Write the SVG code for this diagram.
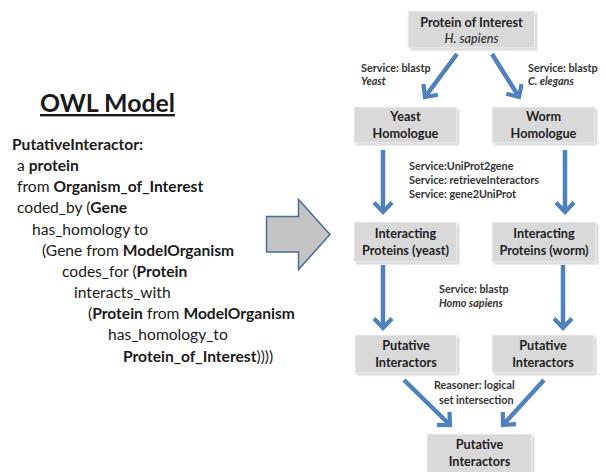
<svg xmlns="http://www.w3.org/2000/svg" width="606" height="472" viewBox="0 0 606 472">
  <style>
    .box { fill: #d9d9d9; stroke: #f4f4f4; stroke-width: 1; }
    .shadow { fill: #a8a8a8; opacity: 0.6; }
    .nt { font-family: Lato, "Liberation Sans", sans-serif; font-weight: bold; font-size: 12.7px; fill: #1e1e1e; text-anchor: middle; }
    .nti { font-family: Lato, "Liberation Sans", sans-serif; font-style: italic; font-size: 12.7px; fill: #1e1e1e; text-anchor: middle; }
    .lbl { font-family: Lato, "Liberation Sans", sans-serif; font-weight: bold; font-size: 10.8px; fill: #333333; }
    .lbli { font-family: Lato, "Liberation Sans", sans-serif; font-style: italic; font-weight: bold; font-size: 10.8px; fill: #333333; }
    .owl { font-family: Lato, "Liberation Sans", sans-serif; font-size: 15.6px; fill: #1a1a1a; }
    .owl .b { font-weight: bold; }
    .title { font-family: Lato, "Liberation Sans", sans-serif; font-weight: bold; font-size: 24px; fill: #1a1a1a; text-decoration: underline; }
    .conn { stroke: #4f81bd; stroke-width: 4.5; fill: none; marker-end: url(#chev); }
  </style>
  <defs>
    <marker id="chev" markerUnits="userSpaceOnUse" orient="auto" refX="0" refY="0" markerWidth="30" markerHeight="30" overflow="visible">
      <path d="M -9.5 -9 L 0 0 L -9.5 9" fill="none" stroke="#4f81bd" stroke-width="4.2" stroke-linejoin="miter"/>
    </marker>
    <filter id="soft" x="-10%" y="-10%" width="130%" height="130%">
      <feGaussianBlur stdDeviation="1"/>
    </filter>
  </defs>

  <rect width="606" height="472" fill="#ffffff"/>

  <!-- OWL model description -->
  <g id="owl-model">
    <text class="title" x="40" y="112" textLength="135" lengthAdjust="spacingAndGlyphs">OWL Model</text>
    <text class="owl" x="12" y="150"><tspan class="b">PutativeInteractor:</tspan></text>
    <text class="owl" x="17" y="171">a <tspan class="b">protein</tspan></text>
    <text class="owl" x="17" y="192">from <tspan class="b">Organism_of_Interest</tspan></text>
    <text class="owl" x="17" y="213">coded_by (<tspan class="b">Gene</tspan></text>
    <text class="owl" x="32" y="235">has_homology to</text>
    <text class="owl" x="42" y="256">(Gene from <tspan class="b">ModelOrganism</tspan></text>
    <text class="owl" x="62" y="277">codes_for (<tspan class="b">Protein</tspan></text>
    <text class="owl" x="74" y="298">interacts_with</text>
    <text class="owl" x="88" y="319">(<tspan class="b">Protein</tspan> from <tspan class="b">ModelOrganism</tspan></text>
    <text class="owl" x="108" y="340">has_homology_to</text>
    <text class="owl" x="123" y="362"><tspan class="b">Protein_of_Interest</tspan>))))</text>
  </g>

  <!-- Big block arrow -->
  <g id="block-arrow">
    <polygon points="266.5,216.5 298.5,216.5 298.5,199.5 330,234.5 298.5,269.5 298.5,252 266.5,252" fill="#c3c3c3" stroke="#4a6b97" stroke-width="1.5" stroke-linejoin="miter"/>
  </g>

  <!-- Connectors -->
  <g id="connectors">
    <line class="conn" x1="457" y1="54" x2="425" y2="97"/>
    <line class="conn" x1="492" y1="54" x2="519" y2="97"/>
    <line class="conn" x1="383" y1="150" x2="383" y2="212"/>
    <line class="conn" x1="565" y1="150" x2="565" y2="212"/>
    <line class="conn" x1="383" y1="265" x2="383" y2="328"/>
    <line class="conn" x1="563" y1="265" x2="563" y2="328"/>
    <line class="conn" x1="404" y1="380" x2="450" y2="425"/>
    <line class="conn" x1="544" y1="380" x2="503" y2="425"/>
  </g>

  <!-- Edge labels -->
  <g id="edge-labels">
    <text class="lbl" x="361" y="72">Service: blastp</text>
    <text class="lbli" x="361" y="85">Yeast</text>
    <text class="lbl" x="528" y="72">Service: blastp</text>
    <text class="lbli" x="528" y="85">C. elegans</text>
    <text class="lbl" x="409" y="170">Service:UniProt2gene</text>
    <text class="lbl" x="409" y="184">Service: retrieveInteractors</text>
    <text class="lbl" x="409" y="198">Service: gene2UniProt</text>
    <text class="lbl" x="439" y="293">Service: blastp</text>
    <text class="lbli" x="439" y="307">Homo sapiens</text>
    <text class="lbl" x="434" y="389">Reasoner: logical</text>
    <text class="lbl" x="439" y="404">set intersection</text>
  </g>

  <!-- Nodes -->
  <g id="protein-of-interest">
    <rect class="shadow" x="410" y="13" width="127" height="37" filter="url(#soft)"/>
    <rect class="box" x="408" y="11" width="127" height="37"/>
    <text class="nt" x="471.5" y="27">Protein of Interest</text>
    <text class="nti" x="471.5" y="43">H. sapiens</text>
  </g>
  <g id="yeast-homologue">
    <rect class="shadow" x="356" y="109" width="103" height="36" filter="url(#soft)"/>
    <rect class="box" x="354" y="107" width="103" height="36"/>
    <text class="nt" x="405.5" y="121">Yeast</text>
    <text class="nt" x="405.5" y="138">Homologue</text>
  </g>
  <g id="worm-homologue">
    <rect class="shadow" x="494" y="109" width="103" height="36" filter="url(#soft)"/>
    <rect class="box" x="492" y="107" width="103" height="36"/>
    <text class="nt" x="543.5" y="121">Worm</text>
    <text class="nt" x="543.5" y="138">Homologue</text>
  </g>
  <g id="interacting-yeast">
    <rect class="shadow" x="356" y="224" width="103" height="40" filter="url(#soft)"/>
    <rect class="box" x="354" y="222" width="103" height="40"/>
    <text class="nt" x="405.5" y="238">Interacting</text>
    <text class="nt" x="405.5" y="255">Proteins (yeast)</text>
  </g>
  <g id="interacting-worm">
    <rect class="shadow" x="494" y="224" width="104" height="40" filter="url(#soft)"/>
    <rect class="box" x="492" y="222" width="104" height="40"/>
    <text class="nt" x="544" y="238">Interacting</text>
    <text class="nt" x="544" y="255">Proteins (worm)</text>
  </g>
  <g id="putative-yeast">
    <rect class="shadow" x="357" y="337" width="102" height="38" filter="url(#soft)"/>
    <rect class="box" x="355" y="335" width="102" height="38"/>
    <text class="nt" x="406" y="350">Putative</text>
    <text class="nt" x="406" y="367">Interactors</text>
  </g>
  <g id="putative-worm">
    <rect class="shadow" x="494" y="337" width="102" height="38" filter="url(#soft)"/>
    <rect class="box" x="492" y="335" width="102" height="38"/>
    <text class="nt" x="543" y="350">Putative</text>
    <text class="nt" x="543" y="367">Interactors</text>
  </g>
  <g id="putative-final">
    <rect class="shadow" x="429" y="436" width="105" height="40" filter="url(#soft)"/>
    <rect class="box" x="427" y="434" width="105" height="40"/>
    <text class="nt" x="479.5" y="449">Putative</text>
    <text class="nt" x="479.5" y="466">Interactors</text>
  </g>
</svg>
